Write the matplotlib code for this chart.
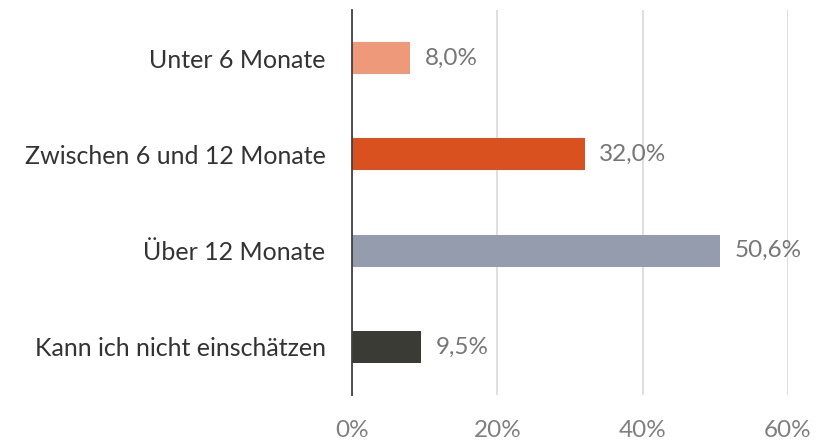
import matplotlib
matplotlib.use("Agg")
import matplotlib.pyplot as plt

# Data
categories = ["Unter 6 Monate", "Zwischen 6 und 12 Monate", "Über 12 Monate", "Kann ich nicht einschätzen"]
values = [8.0, 32.0, 50.6, 9.5]
bar_colors = ["#EE9A7A", "#D9511F", "#949CAD", "#3B3B36"]
x_ticks = [0, 20, 40, 60]

plt.rcParams['font.family'] = ['Lato', 'DejaVu Sans']

fig = plt.figure(figsize=(8.18, 4.46), dpi=100)
ax = fig.add_axes([352 / 818, 51 / 446, 436 / 818, 385 / 446])

ypos = list(range(len(categories)))
ax.barh(ypos, values, height=0.33, color=bar_colors, zorder=3)

for y, v in zip(ypos, values):
    ax.text(v + 2.0, y, f"{v:.1f}%".replace(".", ","), va="center", ha="left",
            fontsize=17.5, color="#767676")

ax.set_xlim(0, 60)
ax.set_ylim(3.5, -0.5)
ax.set_yticks(ypos)
ax.set_yticklabels(categories, fontsize=18, color="#333333")
ax.set_xticks(x_ticks)
ax.set_xticklabels([f"{t}%" for t in x_ticks], fontsize=17.5, color="#7F7F7F")
ax.tick_params(axis="both", length=0)
ax.tick_params(axis="y", pad=19)
ax.tick_params(axis="x", pad=18)

ax.grid(axis="x", color="#D9D9D9", linewidth=1.2, zorder=0)
for s in ["top", "right", "bottom"]:
    ax.spines[s].set_visible(False)
ax.spines["left"].set_color("#404040")
ax.spines["left"].set_linewidth(1.3)
ax.spines["left"].set_zorder(4)

fig.savefig("out.png", dpi=100)
